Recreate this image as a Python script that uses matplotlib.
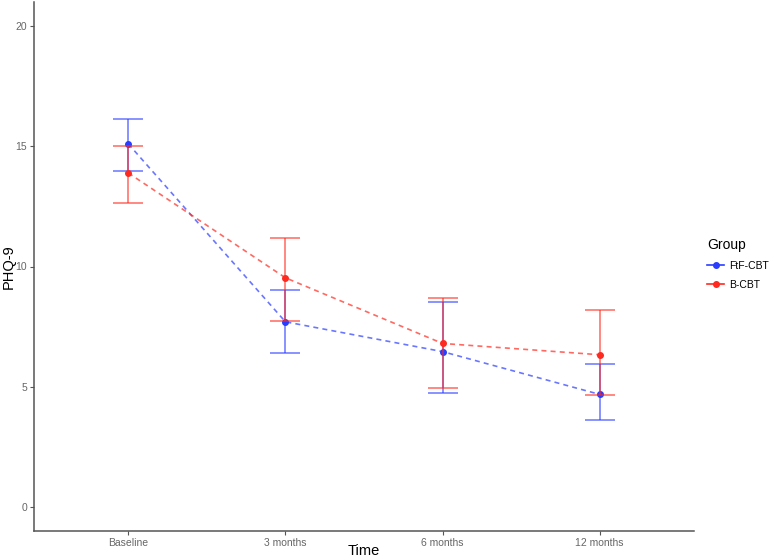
import matplotlib.pyplot as plt
import numpy as np

plt.rcParams['font.family'] = ['Liberation Sans', 'DejaVu Sans']

times = ['Baseline', '3 months', '6 months', '12 months']
groups = ['FtF-CBT', 'B-CBT']

# means and CI bounds
ftf_mean = [15.1, 7.7, 6.46, 4.68]
ftf_low = [13.99, 6.4, 4.73, 3.62]
ftf_high = [16.13, 9.01, 8.54, 5.95]

bcbt_mean = [13.89, 9.53, 6.8, 6.33]
bcbt_low = [12.64, 7.75, 4.93, 4.64]
bcbt_high = [15.01, 11.2, 8.7, 8.19]

colors = {'FtF-CBT': '#2a3dff', 'B-CBT': '#ff2a1f'}

fig = plt.figure(figsize=(7.74, 5.60), dpi=100)
ax = fig.add_axes([34 / 774, 29 / 560, 660 / 774, 529 / 560])

x = np.arange(1, len(times) + 1)
series = {
    'FtF-CBT': (ftf_mean, ftf_low, ftf_high),
    'B-CBT': (bcbt_mean, bcbt_low, bcbt_high),
}
for g in groups:
    m, lo, hi = (np.array(v) for v in series[g])
    c = colors[g]
    ax.errorbar(x, m, yerr=[m - lo, hi - m], fmt='none', ecolor=c, alpha=0.6,
                elinewidth=1.3, capsize=11, capthick=1.3)
    ax.plot(x, m, ls='--', color=c, alpha=0.7, lw=1.2, dashes=(3, 2.5))
    ax.plot(x, m, 'o', color=c, ms=4, label=g)

ax.set_xlim(0.4, 4.6)
ax.set_ylim(-1, 21)
ax.set_xticks(x)
ax.set_xticklabels(times)
ax.set_yticks([0, 5, 10, 15, 20])
for s in ['top', 'right']:
    ax.spines[s].set_visible(False)
for s in ['left', 'bottom']:
    ax.spines[s].set_color('#555555')
    ax.spines[s].set_linewidth(1.1)
ax.tick_params(colors='#555555', labelsize=7.5, length=3, pad=2, labelcolor='#666666')
ax.set_xlabel('Time', fontsize=10.5, va='center')
ax.set_ylabel('PHQ-9', fontsize=10.5, va='center')
ax.xaxis.set_label_coords(0.5, -0.038)
ax.yaxis.set_label_coords(-0.039, 0.5)

# legend with line + dot keys like ggplot
handles = [plt.Line2D([], [], color=colors[g], marker='o', ms=4, lw=1.2) for g in groups]
leg = fig.legend(handles, groups, title='Group', loc='center left',
                 bbox_to_anchor=(698 / 774, 1 - 264 / 560), frameon=False,
                 fontsize=7.5, title_fontsize=10, handlelength=1.6,
                 labelspacing=0.85, handletextpad=0.5, alignment='left')

fig.savefig('out.png', dpi=100)
